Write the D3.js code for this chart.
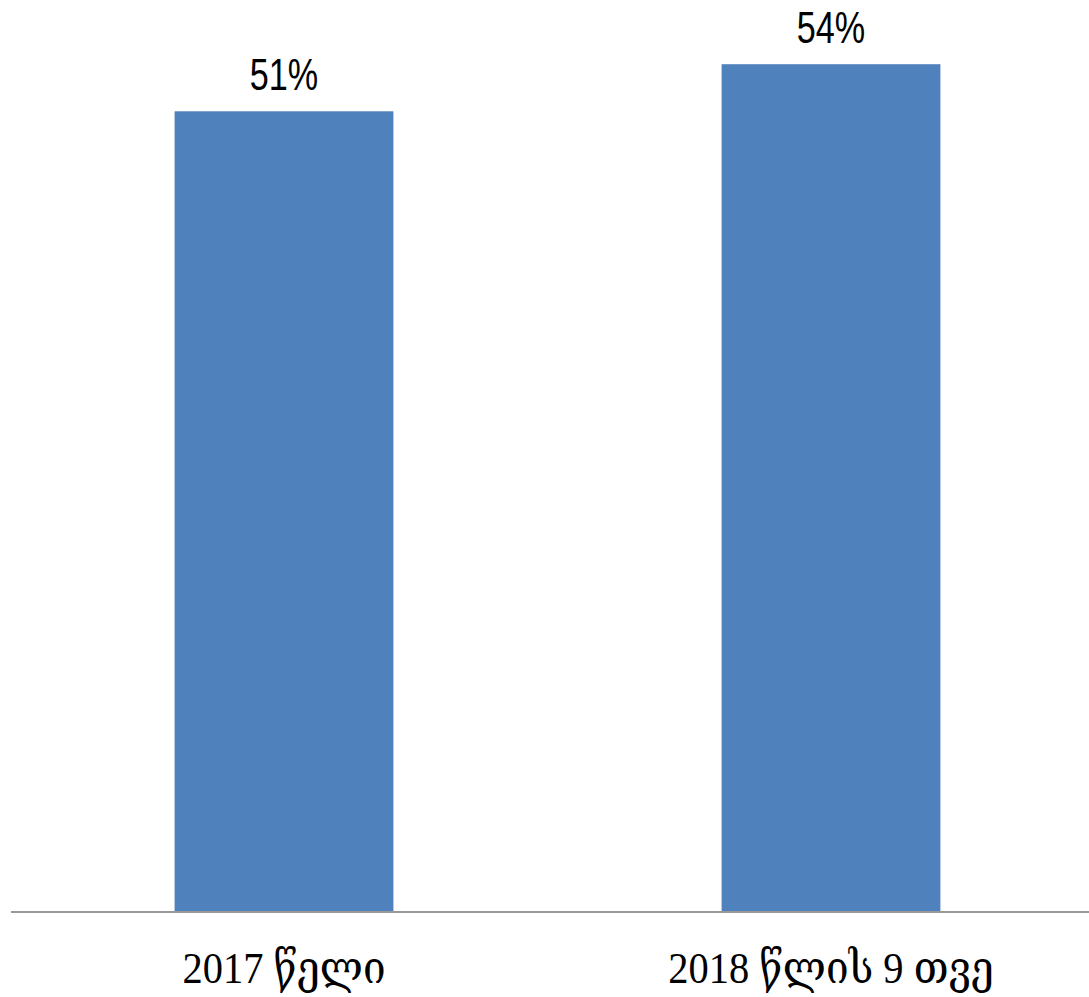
<!DOCTYPE html>
<html><head><meta charset="utf-8">
<script src="https://cdn.jsdelivr.net/npm/d3@7"></script>
<style>html,body{margin:0;padding:0;background:#fff;}svg{display:block;}</style>
</head><body>
<script>
const categories = ["2017 წელი", "2018 წლის 9 თვე"];
const values = [51, 54];
const valueLabels = ["51%", "54%"];

const W = 1089, H = 997;
const svg = d3.select("body").append("svg").attr("width", W).attr("height", H);

const x = d3.scaleBand().domain(categories).range([10.5, 1104.5]).paddingInner(0.6).paddingOuter(0.3);
const y = d3.scaleLinear().domain([0, 60]).range([912, -30]);

svg.selectAll("rect.bar").data(values).join("rect")
  .attr("class", "bar")
  .attr("x", (d, i) => x(categories[i]))
  .attr("width", x.bandwidth())
  .attr("y", d => y(d))
  .attr("height", d => y(0) - y(d))
  .attr("fill", "#4f81bd");

svg.selectAll("text.val").data(values).join("text")
  .attr("class", "val")
  .attr("transform", (d, i) => `translate(${x(categories[i]) + x.bandwidth() / 2},${y(d) - 21}) scale(0.76,1)`)
  .attr("text-anchor", "middle")
  .style("font-family", "'Liberation Sans', Arial, sans-serif")
  .style("font-size", "45px")
  .attr("fill", "#000")
  .text((d, i) => valueLabels[i]);

const xAxis = d3.axisBottom(x).tickSize(0).tickPadding(0);
const g = svg.append("g").attr("transform", `translate(0,${y(0)})`).call(xAxis);
g.select(".domain").remove();
g.append("line").attr("x1", 11).attr("x2", 1089).attr("y1", 0).attr("y2", 0)
  .attr("stroke", "#999").attr("stroke-width", 2);
g.selectAll(".tick text")
  .attr("dy", 0).attr("y", 71)
  .attr("transform", "scale(0.92,1)")
  .style("font-family", "'Liberation Serif', 'DejaVu Serif', serif")
  .style("font-size", "44px")
  .attr("fill", "#000");
</script>
</body></html>
